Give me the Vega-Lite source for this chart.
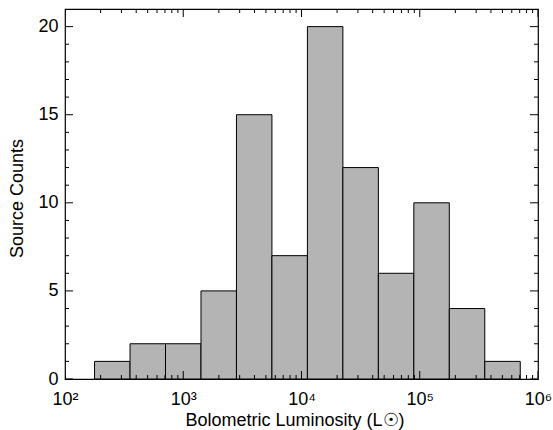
{
  "$schema": "https://vega.github.io/schema/vega-lite/v6.json",
  "width": 473,
  "height": 370,
  "autosize": "none",
  "padding": {"left": 65, "top": 9, "right": 15, "bottom": 51},
  "background": "white",
  "config": {
    "font": "Liberation Sans",
    "view": {"stroke": "black", "strokeWidth": 1.2},
    "axis": {
      "domain": false,
      "grid": false,
      "ticks": false,
      "labelFont": "Liberation Sans",
      "titleFont": "Liberation Sans",
      "labelFontSize": 18,
      "titleFontSize": 18,
      "titleFontWeight": "normal",
      "labelColor": "black",
      "titleColor": "black"
    }
  },
  "datasets": {
    "bins": [
      {"lo": 177.8, "hi": 354.8, "count": 1},
      {"lo": 354.8, "hi": 707.9, "count": 2},
      {"lo": 707.9, "hi": 1412.5, "count": 2},
      {"lo": 1412.5, "hi": 2818.4, "count": 5},
      {"lo": 2818.4, "hi": 5623.4, "count": 15},
      {"lo": 5623.4, "hi": 11220.2, "count": 7},
      {"lo": 11220.2, "hi": 22387.2, "count": 20},
      {"lo": 22387.2, "hi": 44668.4, "count": 12},
      {"lo": 44668.4, "hi": 89125.1, "count": 6},
      {"lo": 89125.1, "hi": 177827.9, "count": 10},
      {"lo": 177827.9, "hi": 354813.4, "count": 4},
      {"lo": 354813.4, "hi": 707945.8, "count": 1}
    ],
    "xmajor": [{"v": 100}, {"v": 1000}, {"v": 10000}, {"v": 100000}, {"v": 1000000}],
    "xminor": [
      {"v": 200}, {"v": 300}, {"v": 400}, {"v": 500}, {"v": 600}, {"v": 700}, {"v": 800}, {"v": 900},
      {"v": 2000}, {"v": 3000}, {"v": 4000}, {"v": 5000}, {"v": 6000}, {"v": 7000}, {"v": 8000}, {"v": 9000},
      {"v": 20000}, {"v": 30000}, {"v": 40000}, {"v": 50000}, {"v": 60000}, {"v": 70000}, {"v": 80000}, {"v": 90000},
      {"v": 200000}, {"v": 300000}, {"v": 400000}, {"v": 500000}, {"v": 600000}, {"v": 700000}, {"v": 800000}, {"v": 900000}
    ],
    "ymajor": [{"v": 0}, {"v": 5}, {"v": 10}, {"v": 15}, {"v": 20}],
    "yminor": [
      {"v": 1}, {"v": 2}, {"v": 3}, {"v": 4}, {"v": 6}, {"v": 7}, {"v": 8}, {"v": 9},
      {"v": 11}, {"v": 12}, {"v": 13}, {"v": 14}, {"v": 16}, {"v": 17}, {"v": 18}, {"v": 19}
    ]
  },
  "layer": [
    {
      "data": {"name": "bins"},
      "mark": {"type": "rect", "fill": "#b4b4b4", "stroke": "black", "strokeWidth": 1},
      "encoding": {
        "x": {
          "field": "lo", "type": "quantitative",
          "scale": {"type": "log", "domain": [100, 1000000], "nice": false},
          "axis": {
            "orient": "bottom",
            "title": "Bolometric Luminosity  (L☉)",
            "titleAlign": "left",
            "titleAnchor": "start",
            "titleBaseline": "alphabetic",
            "titleX": 120,
            "titleY": 46,
            "values": [100, 1000, 10000, 100000, 1000000],
            "labelExpr": "'10' + ['⁰','¹','²','³','⁴','⁵','⁶'][round(log(datum.value)/LN10)]",
            "labelBaseline": "alphabetic",
            "labelPadding": 25,
            "labelFlush": false,
            "labelOverlap": false
          }
        },
        "x2": {"field": "hi"},
        "y": {
          "field": "count", "type": "quantitative",
          "scale": {"domain": [0, 21], "nice": false},
          "axis": {
            "orient": "left",
            "title": "Source Counts",
            "titleAngle": -90,
            "titleAlign": "center",
            "titleBaseline": "alphabetic",
            "titleX": -43,
            "titleY": 189,
            "values": [0, 5, 10, 15, 20],
            "labelPadding": 7,
            "labelOverlap": false,
            "labelFlush": false
          }
        },
        "y2": {"datum": 0}
      }
    },
    {
      "data": {"name": "xmajor"},
      "mark": {"type": "tick", "orient": "vertical", "size": 16, "thickness": 1, "color": "black", "opacity": 1, "clip": true},
      "encoding": {
        "x": {"field": "v", "type": "quantitative"},
        "y": {"datum": 0, "type": "quantitative"}
      }
    },
    {
      "data": {"name": "xmajor"},
      "mark": {"type": "tick", "orient": "vertical", "size": 16, "thickness": 1, "color": "black", "opacity": 1, "clip": true},
      "encoding": {
        "x": {"field": "v", "type": "quantitative"},
        "y": {"datum": 21, "type": "quantitative"}
      }
    },
    {
      "data": {"name": "xminor"},
      "mark": {"type": "tick", "orient": "vertical", "size": 8, "thickness": 1, "color": "black", "opacity": 1, "clip": true},
      "encoding": {
        "x": {"field": "v", "type": "quantitative"},
        "y": {"datum": 0, "type": "quantitative"}
      }
    },
    {
      "data": {"name": "xminor"},
      "mark": {"type": "tick", "orient": "vertical", "size": 8, "thickness": 1, "color": "black", "opacity": 1, "clip": true},
      "encoding": {
        "x": {"field": "v", "type": "quantitative"},
        "y": {"datum": 21, "type": "quantitative"}
      }
    },
    {
      "data": {"name": "ymajor"},
      "mark": {"type": "tick", "orient": "horizontal", "size": 16, "thickness": 1, "color": "black", "opacity": 1, "clip": true},
      "encoding": {
        "y": {"field": "v", "type": "quantitative"},
        "x": {"datum": 100, "type": "quantitative"}
      }
    },
    {
      "data": {"name": "ymajor"},
      "mark": {"type": "tick", "orient": "horizontal", "size": 16, "thickness": 1, "color": "black", "opacity": 1, "clip": true},
      "encoding": {
        "y": {"field": "v", "type": "quantitative"},
        "x": {"datum": 1000000, "type": "quantitative"}
      }
    },
    {
      "data": {"name": "yminor"},
      "mark": {"type": "tick", "orient": "horizontal", "size": 8, "thickness": 1, "color": "black", "opacity": 1, "clip": true},
      "encoding": {
        "y": {"field": "v", "type": "quantitative"},
        "x": {"datum": 100, "type": "quantitative"}
      }
    },
    {
      "data": {"name": "yminor"},
      "mark": {"type": "tick", "orient": "horizontal", "size": 8, "thickness": 1, "color": "black", "opacity": 1, "clip": true},
      "encoding": {
        "y": {"field": "v", "type": "quantitative"},
        "x": {"datum": 1000000, "type": "quantitative"}
      }
    }
  ]
}
